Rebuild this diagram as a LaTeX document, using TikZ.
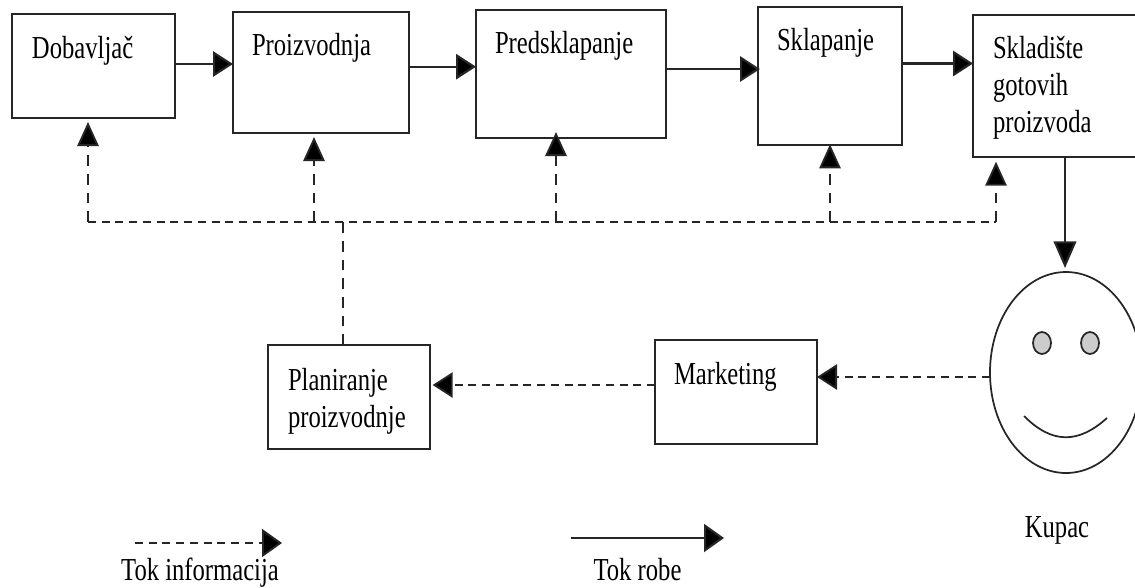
\documentclass[tikz,border=0pt]{standalone}
\usepackage{fontspec}
\setmainfont[FakeStretch=0.77]{Liberation Serif}
\usetikzlibrary{arrows.meta,shapes.geometric}
\newdimen\pxu
\pxu=0.75pt
\newcommand{\lbl}[5]{\parbox[c][#2\pxu][t]{#1\pxu}{\vspace*{#5\pxu}\leftskip=#4\pxu\rightskip=0pt plus 1fil\parindent=0pt\baselineskip=27.75pt #3\par}}
\tikzset{
  boxn/.style={draw=black!85,line width=1.6pt,fill=white,inner sep=0pt,outer sep=0pt,font=\fontsize{24}{27.75}\selectfont},
  txt/.style={inner sep=0pt,anchor=base,font=\fontsize{24}{27.75}\selectfont},
  flow/.style={line width=1.6pt,black!85},
  info/.style={line width=1.4pt,black!85,dash pattern=on 6pt off 4.3pt},
  vinfo/.style={line width=1.4pt,black!85,dash pattern=on 8pt off 6pt},
  hh/.style={-{Triangle[width=19pt,length=15pt,fill=black]}},
  vh/.style={-{Triangle[width=16pt,length=18pt,fill=black]}},
  dh/.style={-{Triangle[width=17pt,length=20pt,fill=black]}},
  lh/.style={-{Triangle[width=21pt,length=15pt,fill=black]}},
  face/.style={draw=black!85,line width=1.3pt,inner sep=0pt,outer sep=0pt,ellipse},
  eye/.style={draw=black!85,line width=1.3pt,fill=black!20,inner sep=0pt,ellipse,minimum width=13.5pt,minimum height=16.5pt},
}
\begin{document}
\begin{tikzpicture}[x=0.75pt,y=-0.75pt]
\clip (0,0) rectangle (1135,587);
\node[boxn,minimum width=122.25pt,minimum height=78pt] (dob) at (93.5,66) {\lbl{163}{104}{Dobavljač}{20}{22}};
\node[boxn,minimum width=132pt,minimum height=90.75pt] (pro) at (321,72.5) {\lbl{176}{121}{Proizvodnja}{19}{21}};
\node[boxn,minimum width=142.5pt,minimum height=96pt] (pre) at (571,74) {\lbl{190}{128}{Predsklapanje}{19}{21}};
\node[boxn,minimum width=108pt,minimum height=103.5pt] (skl) at (830,76) {\lbl{144}{138}{Sklapanje}{19}{21}};
\node[boxn,minimum width=135pt,minimum height=106.5pt] (skd) at (1063,86) {\lbl{180}{142}{Skladište\\gotovih\\proizvoda}{20}{21}};
\node[boxn,minimum width=121.5pt,minimum height=78pt] (pln) at (349,397) {\lbl{162}{104}{Planiranje\\proizvodnje}{20}{23}};
\node[boxn,minimum width=121.5pt,minimum height=78pt] (mrk) at (736,392) {\lbl{162}{104}{Marketing}{19}{22}};
\node[face,minimum width=114pt,minimum height=150.75pt] (kup) at (1066,372.5) {};
\node[eye] (e1) at (1042,343) {};
\node[eye] (e2) at (1090,343) {};
\coordinate (s1) at (1024,416);
\coordinate (s2) at (1107,418);
\draw[line width=1.3pt,black!85] (s1) .. controls (1052,444) and (1078,444) .. (s2);
\node[txt] (kupl) at (1057,537) {Kupac};
% goods flow
\draw[flow,hh] (dob.east |- 0,64) -- (pro.west |- 0,64);
\draw[flow,hh] (pro.east |- 0,66.7) -- (pre.west |- 0,66.7);
\draw[flow,hh,shorten >=-1.5pt] (pre.east |- 0,69) -- (skl.west |- 0,69);
\draw[flow,hh] (skl.east |- 0,63.5) -- (skd.west |- 0,63.5);
\coordinate (dn) at (1065,157);
\draw[flow,dh,shorten >=3pt] (dn) -- (dn |- kup.north);
% information flow
\coordinate (t1) at (88,222);
\coordinate (t2) at (314,222);
\coordinate (t3) at (556,222);
\coordinate (t4) at (830,222);
\coordinate (t5) at (996,222);
\coordinate (tm) at (343,222);
\draw[info] (t1) -- (t5);
\draw[vinfo] (pln.north -| tm) -- (tm);
\draw[vinfo,vh,shorten >=3pt] (t1) -- (dob.south -| t1);
\draw[vinfo,vh,shorten >=3pt] (t2) -- (pro.south -| t2);
\draw[vinfo,vh,shorten >=-4.5pt] (t3) -- (pre.south -| t3);
\draw[vinfo,vh,shorten >=-0.5pt] (t4) -- (skl.south -| t4);
\draw[vinfo,vh,shorten >=3.5pt] (t5) -- (skd.south -| t5);
\draw[info,hh] (kup.west |- 0,377) -- (mrk.east |- 0,377);
\draw[info,hh,shorten >=2pt] (mrk.west |- 0,385) -- (pln.east |- 0,385);
% legend
\coordinate (a1) at (135,543);
\coordinate (a2) at (282,543);
\coordinate (b1) at (571,538);
\coordinate (b2) at (724,538);
\draw[info,lh] (a1) -- (a2);
\draw[flow,lh] (b1) -- (b2);
\node[txt] (ll) at (200,580) {Tok informacija};
\node[txt] (lr) at (637.5,580) {Tok robe};
\end{tikzpicture}
\end{document}
